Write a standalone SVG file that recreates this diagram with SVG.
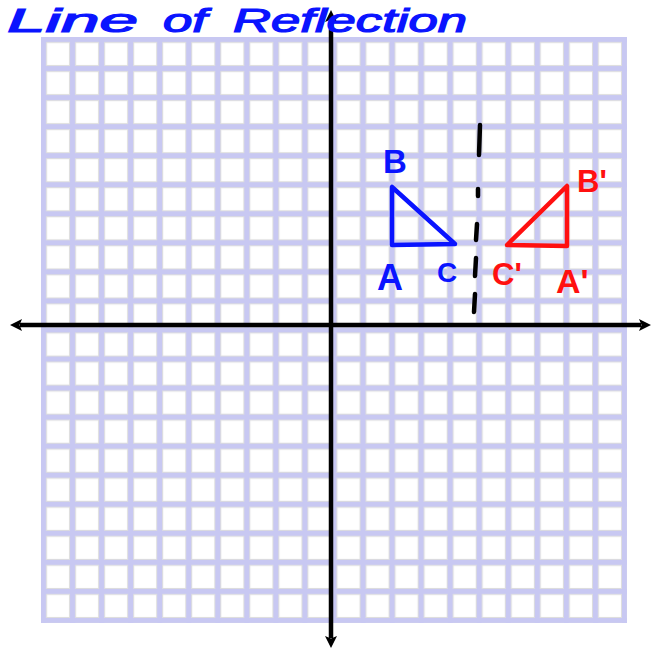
<svg xmlns="http://www.w3.org/2000/svg" width="651" height="649" viewBox="0 0 651 649">
<style>
.title{font-family:"Liberation Sans","DejaVu Sans",sans-serif;font-style:italic;font-size:33px;fill:#0a14ff;stroke:#0a14ff;stroke-width:1.2}
.lbl{font-family:"Liberation Sans","DejaVu Sans",sans-serif;font-weight:bold;}
.blue{fill:#0a14ff}
.red{fill:#ff1010}
.axis{stroke:#000;stroke-width:4.5;fill:none}
.dash{stroke:#000;stroke-width:4.5;stroke-linecap:round;fill:none}
.tri{fill:none;stroke-width:4.5;stroke-linejoin:round;stroke-linecap:round}
</style>
<defs>
<pattern id="grid" x="41" y="37" width="29.05" height="29.05" patternUnits="userSpaceOnUse">
<rect width="29.05" height="29.05" fill="#c8c8f2"/>
<rect x="5.5" y="5.5" width="23.05" height="23.05" fill="#fff" stroke="#dddddd" stroke-width="1"/>
</pattern>
<marker id="arrow" viewBox="0 0 12 12" refX="2" refY="6" markerWidth="12" markerHeight="12" markerUnits="userSpaceOnUse" orient="auto-start-reverse">
<path d="M0,0 L12,6 L0,12 L2.5,6 Z" fill="#000"/>
</marker>
</defs>
<rect width="651" height="649" fill="#fff"/>
<g id="grid-area">
<rect x="41" y="37" width="586" height="586" fill="url(#grid)"/>
</g>
<g id="connectors">
<line class="axis" x1="331" y1="20" x2="331" y2="638" marker-start="url(#arrow)" marker-end="url(#arrow)"/>
<line class="axis" x1="20" y1="325" x2="641" y2="325" marker-start="url(#arrow)" marker-end="url(#arrow)"/>
<g id="line-of-reflection">
<line class="dash" x1="480" y1="125" x2="479" y2="155"/>
<line class="dash" x1="478" y1="189" x2="478" y2="196"/>
<line class="dash" x1="477" y1="224" x2="476" y2="240"/>
<line class="dash" x1="476" y1="258" x2="475" y2="276"/>
<line class="dash" x1="475" y1="294" x2="474" y2="312"/>
</g>
</g>
<g id="title">
<text class="title"><tspan x="7" y="32" textLength="131" lengthAdjust="spacingAndGlyphs">Line</tspan><tspan x="163" y="32" textLength="44" lengthAdjust="spacingAndGlyphs">of</tspan><tspan x="233" y="32" textLength="234" lengthAdjust="spacingAndGlyphs">Reflection</tspan></text>
</g>
<g id="triangle-ABC">
<path class="tri" stroke="#0a14ff" d="M392,187 L392,245 L455,244 Z"/>
<text class="lbl blue" x="395" y="173" font-size="33" text-anchor="middle">B</text>
<text class="lbl blue" x="390" y="290" font-size="36" text-anchor="middle">A</text>
<text class="lbl blue" x="447" y="282" font-size="28" text-anchor="middle">C</text>
</g>
<g id="triangle-A1B1C1">
<path class="tri" stroke="#ff1010" d="M567,186 L567,246 L507,245 Z"/>
<text class="lbl red" x="577" y="192" font-size="31">B'</text>
<text class="lbl red" x="492" y="285" font-size="31">C'</text>
<text class="lbl red" x="556" y="293" font-size="34">A'</text>
</g>
</svg>
